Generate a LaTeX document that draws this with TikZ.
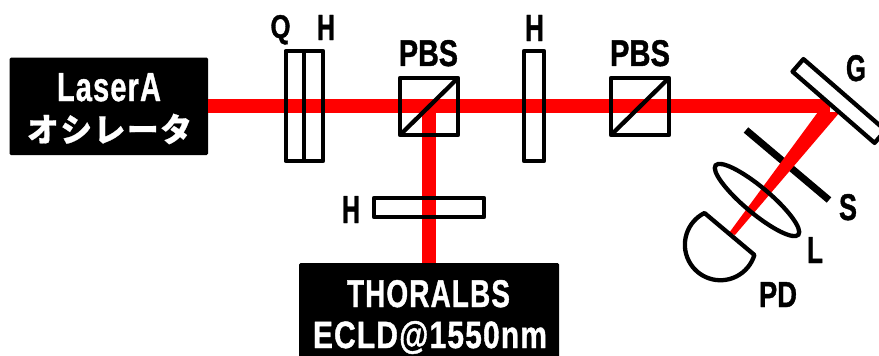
\documentclass[tikz,border=0pt]{standalone}
\usepackage{fontspec}
\usepackage{graphicx}
\setmainfont[BoldFeatures={FakeBold=1.2}]{Liberation Sans}
\newfontfamily\cjk[BoldFeatures={FakeBold=0.6}]{Noto Sans CJK JP}
\usetikzlibrary{shapes.geometric}
\newcommand\fit[3]{\resizebox{#1pt}{#2pt}{\bfseries #3}}
\newcommand\fitw[3]{\resizebox{#1pt}{#2pt}{\bfseries\addfontfeature{LetterSpace=4}#3}}
\tikzset{
  beam/.style={draw=red,line width=14pt},
  optic/.style={draw=black,line width=4.3pt,line join=round,rectangle,inner sep=0pt,outer sep=0pt},
  source/.style={fill=black,rectangle,rounded corners=1.5pt,inner sep=0pt,outer sep=0pt},
  lbl/.style={anchor=base,inner sep=0pt,outer sep=0pt,text=black},
  wlbl/.style={anchor=base,inner sep=0pt,outer sep=0pt,text=white}
}
\begin{document}
\begin{tikzpicture}[x=1pt,y=-1pt]
\clip (0,0) rectangle (879,356);
\fill[white] (0,0) rectangle (879,356);
% S blade below the beam
\coordinate (s1) at (746,130);
\coordinate (s2) at (829,200);
\draw[line width=7pt] (s1) -- (s2);
% sources
\node[source,minimum width=198.5pt,minimum height=97.5pt] (laser) at (108.75,106.25) {};
\node[source,minimum width=260pt,minimum height=110pt] (eclD) at (429,318) {};
% beams
\coordinate (pbsc) at (429,106);
\coordinate (gc) at (830,106);
\draw[beam] (pbsc) -- (pbsc |- eclD.north);
\draw[beam] (laser.east |- gc) -- (gc);
\coordinate (t1) at (818,112);
\coordinate (t2) at (840,112);
\coordinate (t3) at (735,235);
\coordinate (t4) at (729,233);
\fill[red] (t1) -- (t2) -- (t3) -- (t4) -- cycle;
% optics
\node[optic,minimum width=18.5pt,minimum height=110pt] (q) at (295,106) {};
\node[optic,minimum width=19pt,minimum height=110pt] (h1) at (313.5,106) {};
\node[optic,minimum width=58pt,minimum height=57pt] (pbs1) at (429,106.5) {};
\draw[line width=4.3pt] (pbs1.south west) -- (pbs1.north east);
\node[optic,minimum width=20pt,minimum height=110pt] (h2) at (534,106) {};
\node[optic,minimum width=58pt,minimum height=57pt] (pbs2) at (640,106.5) {};
\draw[line width=4.3pt] (pbs2.south west) -- (pbs2.north east);
\node[optic,minimum width=110pt,minimum height=19pt] (h3) at (429,207.5) {};
\node[optic,fill=white,minimum width=108.7pt,minimum height=16.6pt,rotate=-41] (g) at (839,101) {};
\node[draw=black,line width=4.3pt,ellipse,inner sep=0pt,outer sep=0pt,minimum width=108pt,minimum height=26pt,rotate=-40] (lens) at (757,200) {};
% photodiode
\coordinate (pda) at (704.5,213);
\draw[line width=4.3pt,line join=round,fill=white] (pda) arc[start angle=243.4,end angle=16.7,radius=35.5] -- cycle;
% labels
\node[lbl] (lq) at (280.5,38) {\fit{20}{23}{Q}};
\node[lbl] (lh1) at (326,40) {\fit{18}{25}{H}};
\node[lbl] (lp1) at (428.5,66) {\fit{59}{26}{PBS}};
\node[lbl] (lh2) at (534.5,41) {\fit{19}{26}{H}};
\node[lbl] (lp2) at (640,66) {\fit{60}{26}{PBS}};
\node[lbl] (lh3) at (351,223) {\fit{18}{27}{H}};
\node[lbl] (lg) at (856,81) {\fit{20}{26}{G}};
\node[lbl] (ls) at (848,220) {\fit{18}{26}{S}};
\node[lbl] (ll) at (815,263) {\fit{16}{26}{L}};
\node[lbl] (lpd) at (778,307) {\fit{38}{25}{PD}};
\node[wlbl] (tla) at (109,101) {\fitw{104}{28}{LaserA}};
\node[inner sep=0pt,outer sep=0pt,text=white] (tlb) at (109.5,129) {\resizebox{165pt}{28pt}{\cjk\bfseries\addfontfeature{LetterSpace=5}オシレータ}};
\node[wlbl] (tth) at (428.5,307) {\fitw{163}{27}{THORALBS}};
\node[wlbl] (tec) at (430,348) {\fitw{234}{27}{ECLD@1550nm}};
\end{tikzpicture}
\end{document}
